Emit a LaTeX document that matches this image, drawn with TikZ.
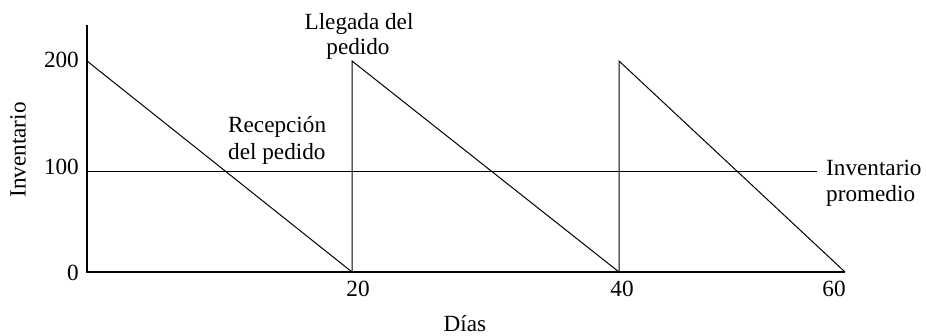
\documentclass[tikz,border=0pt]{standalone}
\usepackage{fontspec}
\setmainfont{Liberation Serif}
\begin{document}
\begin{tikzpicture}[x=1pt,y=-1pt,
  every node/.style={inner sep=0pt, font=\fontsize{23.2}{26}\selectfont},
  curve/.style={line width=1pt, line join=miter},
  axisline/.style={line width=1.6pt}]
\useasboundingbox (0,0) rectangle (926,336);
% key points
\coordinate (top) at (87,25);
\coordinate (o) at (87,272);
\coordinate (xend) at (845,272);
\coordinate (a0) at (87,61);
\coordinate (b0) at (352,272);
\coordinate (b1) at (352,61);
\coordinate (c0) at (619,272);
\coordinate (c1) at (619,61);
\coordinate (d0) at (845,272);
\coordinate (m0) at (87,172);
\coordinate (m1) at (817,172);
% axes
\draw[axisline] (top) -- (o) -- (xend);
% inventory curve
\draw[curve] (a0) -- (b0) -- (b1) -- (c0) -- (c1) -- (d0);
% average inventory
\draw[curve] (m0) -- (m1);
% tick labels
\node[anchor=base east] (y200) at (79,68) {200};
\node[anchor=base east] (y100) at (79,175) {100};
\node[anchor=base east] (y0) at (79,281) {0};
\node[anchor=base] (x20) at (358,297) {20};
\node[anchor=base] (x40) at (622,297) {40};
\node[anchor=base] (x60) at (834,297) {60};
% axis titles
\node[anchor=base] (dias) at (465,332) {Días};
\node[rotate=90] (inv) at (18,150) {Inventario};
% annotations
\node[anchor=base] (lleg1) at (359,30) {Llegada del};
\node[anchor=base] (lleg2) at (358,55) {pedido};
\node[anchor=base west] (rec1) at (228,133) {Recepción};
\node[anchor=base west] (rec2) at (228,160) {del pedido};
\node[anchor=base west] (prom1) at (826,176) {Inventario};
\node[anchor=base west] (prom2) at (826,202) {promedio};
\end{tikzpicture}
\end{document}
